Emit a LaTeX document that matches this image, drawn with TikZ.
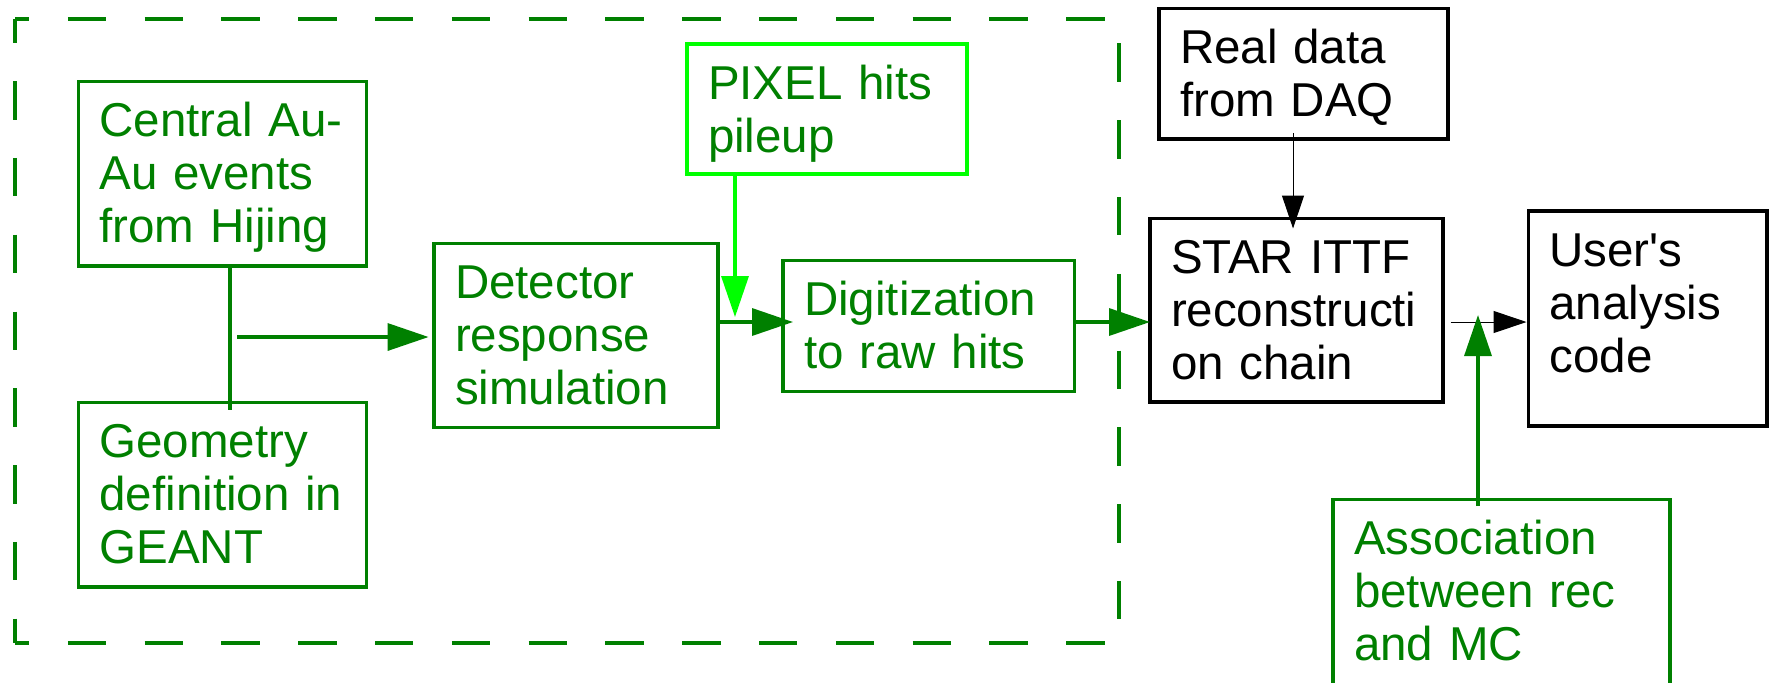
\documentclass[tikz,border=0pt]{standalone}
\usepackage{fontspec}
\setmainfont{Liberation Sans}
\usetikzlibrary{arrows.meta}
\definecolor{dgreen}{HTML}{008000}
\definecolor{lgreen}{HTML}{00FF00}

\begin{document}
\begin{tikzpicture}[
  x=0.5pt, y=-0.5pt,
  box/.style={draw=#1, line width=1.9pt, anchor=north west, outer sep=0pt,
              inner xsep=10.5pt, inner ysep=0pt, align=left, text height=27.5pt,
              font=\fontsize{23.75pt}{26.5pt}\selectfont},
  box/.default=black,
  gbox/.style={box=dgreen, text=dgreen},
  ln/.style={dgreen, line width=1.7pt},
  ar/.style={ln, -{Triangle[length=20.5pt,width=13.5pt]}},
  tar/.style={black, line width=0.5pt, -{Triangle[length=16.5pt,width=11pt]}},
  dashframe/.style={dgreen, line width=1.7pt, dash pattern=on 19.2pt off 19.2pt},
]
\useasboundingbox (0,0) rectangle (1770,682);

% simulation part
\draw[dashframe, dash phase=12pt] (15,19) -- (1119,19);
\draw[dashframe, dash phase=12pt] (15,643) -- (1119,643);
\draw[dashframe, dash phase=7.35pt] (15,19) -- (15,643);
\draw[dashframe, dash phase=26.2pt] (1119,19) -- (1119,643);

\node[gbox, text width=123pt, text depth=64.75pt] (cen) at (78.5,81.5) {Central Au-\\Au events\\from Hijing};
\node[gbox, text width=123pt, text depth=64.75pt] (geo) at (78.5,402.5) {Geometry\\definition in\\GEANT};
\node[gbox, text width=121pt, text depth=64.5pt] (det) at (434,243.5) {Detector\\response\\simulation};
\node[box=lgreen, text=dgreen, text width=119pt, text depth=37.5pt] (pix) at (687,44) {PIXEL hits\\pileup};
\node[gbox, text width=124.75pt, text depth=38pt] (dig) at (783,260.5) {Digitization\\to raw hits};

% reconstruction part
\node[box, text width=123.5pt, text depth=37.75pt] (real) at (1159,8.5) {Real data\\from DAQ};
\node[box, text width=125.3pt, text depth=64.25pt] (star) at (1150,218.5) {STAR ITTF\\reconstructi\\on chain};
\node[box, text width=98.25pt, text depth=80pt] (user) at (1528.5,211) {User\textquotesingle s\\analysis\\code};
\node[gbox, text width=147.5pt, text depth=67.5pt] (asc) at (1333,499.5) {Association\\between rec\\and MC};

\coordinate (trunk) at (230,337);
\coordinate (mix) at (735,322);
\coordinate (feed) at (1293,322);
\coordinate (meet) at (1478,322);

\draw[ln, shorten >=-3.75pt] (cen.south -| trunk) -- (geo.north -| trunk);
\draw[ar, shorten >=2.7pt] ([xshift=3.5pt]trunk) -- (trunk -| det.west);
\draw[ar, shorten >=-5pt] (det.east |- mix) -- (dig.west |- mix);
\draw[ar, lgreen, shorten >=2.5pt] (pix.south -| mix) -- (mix);
\draw[ar] (dig.east |- mix) -- (star.west |- mix);
\draw[tar, shorten <=-3pt, shorten >=-5pt] (real.south -| feed) -- (star.north -| feed);
\draw[tar, shorten <=4pt, shorten >=1pt] (star.east |- mix) -- (user.west |- mix);
\draw[ar, shorten <=-3.25pt, shorten >=-3.5pt] (asc.north -| meet) -- (meet);
\end{tikzpicture}
\end{document}
